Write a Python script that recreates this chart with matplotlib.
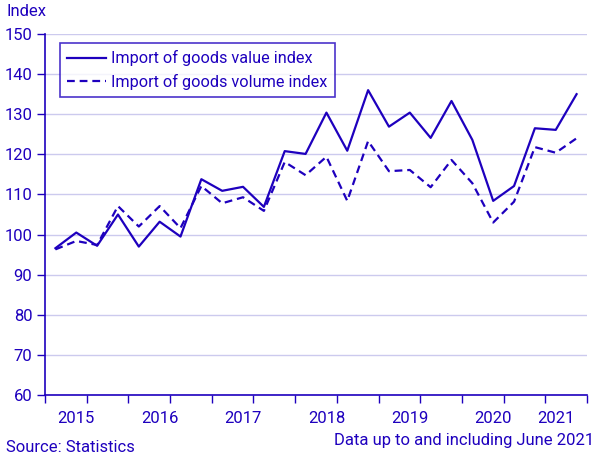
import matplotlib
matplotlib.use("Agg")
import matplotlib.pyplot as plt
import numpy as np

plt.rcParams['font.family'] = ['Roboto', 'DejaVu Sans']

quarters = ["2015Q1","2015Q2","2015Q3","2015Q4","2016Q1","2016Q2","2016Q3","2016Q4",
            "2017Q1","2017Q2","2017Q3","2017Q4","2018Q1","2018Q2","2018Q3","2018Q4",
            "2019Q1","2019Q2","2019Q3","2019Q4","2020Q1","2020Q2","2020Q3","2020Q4",
            "2021Q1","2021Q2"]
value_index = [96.6, 100.5, 97.2, 105.0, 97.0, 103.2, 99.5, 113.8, 110.9, 111.9, 106.9, 120.8,
               120.1, 130.4, 120.9, 136.0, 126.9, 130.4, 124.1, 133.3, 123.6, 108.4, 112.1,
               126.5, 126.1, 135.0]
volume_index = [96.3, 98.4, 97.4, 107.1, 102.0, 107.1, 101.6, 112.1, 107.8, 109.3, 105.9, 118.1,
                114.8, 119.4, 108.4, 123.3, 115.8, 116.1, 111.8, 118.6, 112.8, 103.0, 108.2,
                121.8, 120.4, 124.0]
year_labels = ["2015", "2016", "2017", "2018", "2019", "2020", "2021"]
year_label_pos = [1, 5, 9, 13, 17, 21, 24]

C = "#1E00BE"
GRID = "#CCCAEE"
FS = 12

fig = plt.figure(figsize=(6.05, 4.58), dpi=100)
ax = fig.add_axes([45/605, 1-395/458, 542/605, 361/458])

x = np.arange(len(quarters))
ax.plot(x, value_index, color=C, lw=1.6, label="Import of goods value index")
ax.plot(x, volume_index, color=C, lw=1.6, ls=(0, (3.5, 2.2)), label="Import of goods volume index")

ax.set_xlim(-0.5, len(quarters) - 0.5)
ax.set_ylim(60, 150)
ax.set_yticks(np.arange(60, 151, 10))
ax.yaxis.grid(True, color=GRID, lw=1)
ax.set_axisbelow(True)
ax.set_xticks(np.arange(-0.5, len(quarters), 2))
ax.set_xticklabels([])
ax.tick_params(axis='x', length=6, width=1, color=C, direction='out')
ax.tick_params(axis='y', length=6, width=1, color=C, labelcolor=C, labelsize=FS, pad=3)
for lbl, p in zip(year_labels, year_label_pos):
    ax.text(p, -0.065, lbl, transform=ax.get_xaxis_transform(), ha='center', va='center',
            color=C, fontsize=FS)
for s in ['top', 'right']:
    ax.spines[s].set_visible(False)
for s in ['left', 'bottom']:
    ax.spines[s].set_color(C)
    ax.spines[s].set_linewidth(1.2)

leg = ax.legend(loc='upper left', bbox_to_anchor=(15/542, 1-9/361), frameon=True, fancybox=False,
                edgecolor=C, fontsize=11.7, labelcolor=C, handlelength=2.4, handletextpad=0.3,
                borderpad=0.45, labelspacing=0.45, borderaxespad=0)
leg.get_frame().set_linewidth(1.2)

fig.text(6/605, 1-12/458, "Index", color=C, fontsize=FS, ha='left', va='center')
fig.text(6/605, 1-448/458, "Source: Statistics", color=C, fontsize=FS, ha='left', va='center')
fig.text(594/605, 1-440/458, "Data up to and including June 2021", color=C, fontsize=FS,
         ha='right', va='center')

fig.savefig("out.png", dpi=100)
